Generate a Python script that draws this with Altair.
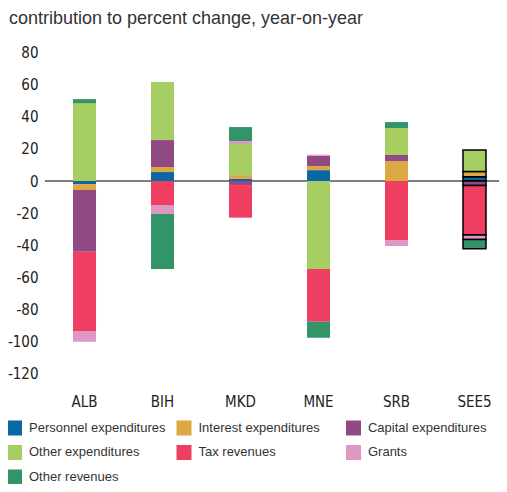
import altair as alt
import pandas as pd

countries = ["ALB", "BIH", "MKD", "MNE", "SRB", "SEE5"]
series = ["Personnel expenditures", "Interest expenditures", "Capital expenditures",
          "Other expenditures", "Tax revenues", "Grants", "Other revenues"]
colors = ["#0a67a3", "#dca844", "#924a85", "#a6ce63", "#ee3e61", "#de96c3", "#33946a"]

personnel = [-1.9, 5.6, 1.4, 6.8, 0.0, 2.7]
interest = [-3.7, 3.1, 2.3, 2.5, 12.4, 3.3]
capital = [-38.4, 16.8, -2.5, 6.4, 3.8, -2.7]
other_exp = [48.5, 36.1, 19.3, -54.8, 16.8, 13.3]
tax = [-49.3, -14.9, -20.3, -32.8, -36.7, -30.9]
grants = [-6.7, -5.6, 1.9, 0.7, -3.7, -2.7]
other_rev = [2.5, -34.3, 8.7, -9.9, 3.7, -5.8]

y_ticks = [-120, -100, -80, -60, -40, -20, 0, 20, 40, 60, 80]

values = [personnel, interest, capital, other_exp, tax, grants, other_rev]
rows = []
for si, (s, vals) in enumerate(zip(series, values)):
    for c, v in zip(countries, vals):
        rows.append({"country": c, "series": s, "idx": si, "value": v})
df = pd.DataFrame(rows)

narrow = "DejaVu Sans Condensed, Liberation Sans Narrow, Roboto, sans-serif"
regular = "Liberation Sans, Arial, sans-serif"

yscale = alt.Scale(domain=[-120, 80], nice=False, zero=False)
yaxis = alt.Axis(title=None, values=y_ticks, ticks=False, tickSize=0,
                 domain=False, grid=False, labelPadding=7,
                 labelOverlap=False, labelFlush=False,
                 labelExpr="replace(datum.label, '\u2212', '-')",
                 labelFont=narrow, labelFontSize=15, labelColor="#222222")

bars = alt.Chart(df).mark_bar(stroke="black").encode(
    x=alt.X("country:N", sort=countries,
            scale=alt.Scale(range=[28, 441], paddingInner=0.705, paddingOuter=0),
            axis=alt.Axis(title=None, labelAngle=0, ticks=False, domain=False,
                          labelFont=narrow, labelFontSize=15, labelPadding=21,
                          labelColor="#222222")),
    y=alt.Y("value:Q", stack="zero", scale=yscale, axis=yaxis),
    color=alt.Color("series:N", sort=series,
                    scale=alt.Scale(domain=series, range=colors),
                    legend=alt.Legend(title=None, orient="none", legendX=-38, legendY=368,
                                      columns=3, direction="horizontal", gridAlign="all",
                                      symbolType="square", symbolSize=225,
                                      symbolStrokeWidth=0, symbolOpacity=1,
                                      labelFont=regular, labelFontSize=13,
                                      labelColor="#333333", labelOffset=7,
                                      rowPadding=9.5, columnPadding=10.5, labelLimit=300)),
    order=alt.Order("idx:Q"),
    strokeWidth=alt.condition("datum.country == 'SEE5'", alt.value(1.5), alt.value(0)),
)

zero = alt.Chart(df).mark_rule(color="#7f7f7f", strokeWidth=2).encode(
    y=alt.Y(datum=0, type="quantitative", scale=yscale, axis=yaxis)
)

chart = alt.layer(zero, bars).properties(
    width=454,
    height=321.4,
    padding={"left": 37, "top": 44.5, "right": 0, "bottom": 110},
    autosize=alt.AutoSizeParams(type="none"),
    title=alt.TitleParams("contribution to percent change, year-on-year",
                          anchor="start", frame="group", dx=-36, offset=3.5,
                          baseline="alphabetic", font=regular, fontSize=18,
                          fontWeight="normal", color="#333333"),
).configure_view(strokeWidth=0).configure_axisY(labelOverlap=False)

chart.save("out.html", embed_options={"renderer": "svg", "actions": False})
